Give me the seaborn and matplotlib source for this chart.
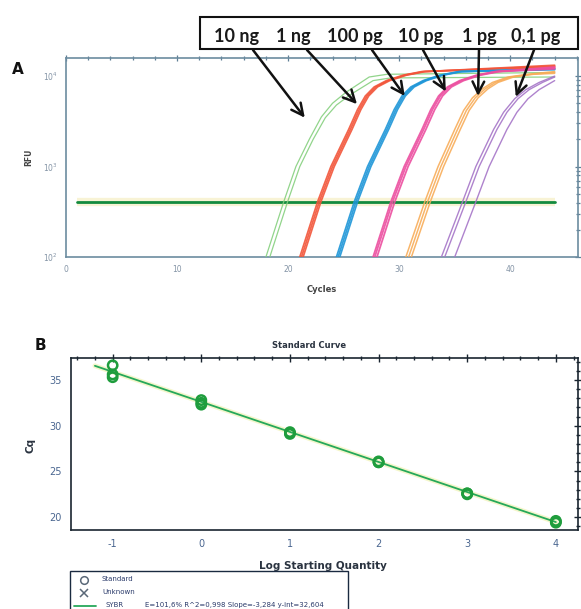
import numpy as np
import pandas as pd
import matplotlib
matplotlib.use("Agg")
import matplotlib.pyplot as plt
import seaborn as sns
from matplotlib.patches import Rectangle
from matplotlib.lines import Line2D
from matplotlib.ticker import MultipleLocator, LogLocator, NullFormatter

sns.set_theme(style="white")
plt.rcParams['font.family'] = ['DejaVu Sans']
plt.rcParams['axes.unicode_minus'] = False

W, H = 581, 609

# ---------------- Panel A data (amplification curves) ----
dilutions = ["10 ng", "1 ng", "100 pg", "10 pg", "1 pg", "0,1 pg"]
group_colors = ["#86d07f", "#f2553a", "#1e96d8", "#ec4fa0", "#f8ad5a", "#a676c8"]
group_widths = [0.9, 1.25, 1.25, 1.3, 1.1, 1.0]

ng10_cycles = [
    [17.0, 18.0, 19.6, 20.7, 21.9, 23.0, 24.0, 25.2, 27.3, 28.9, 44.0],
    [17.35, 18.35, 19.95, 21.05, 22.25, 23.35, 24.35, 25.55, 27.65, 29.25, 44.0],
]
ng10_rfu = [
    [40, 100, 407, 1000, 1995, 3548, 5012, 6607, 9772, 10471, 10965],
    [40, 100, 407, 1000, 1995, 3467, 4786, 6166, 8913, 9550, 9772],
]
ng1_cycles = [
    [20.05, 21.05, 22.65, 23.85, 25.45, 26.25, 26.95, 27.75, 28.85, 30.35, 32.05, 44.0],
    [20.2, 21.2, 22.8, 24.0, 25.6, 26.4, 27.1, 27.9, 29.0, 30.5, 32.2, 44.0],
    [20.35, 21.35, 22.95, 24.15, 25.75, 26.55, 27.25, 28.05, 29.15, 30.65, 32.35, 44.0],
]
ng1_rfu = [
    [40, 100, 407, 1000, 2570, 4266, 6026, 7586, 8913, 10233, 11220, 12589],
    [40, 100, 407, 1000, 2570, 4266, 6026, 7586, 8913, 10233, 11220, 12882],
    [40, 100, 407, 1000, 2570, 4266, 6026, 7586, 8913, 10233, 11220, 13183],
]
pg100_cycles = [
    [23.35, 24.35, 25.95, 27.15, 28.75, 29.55, 30.25, 31.05, 32.15, 33.65, 35.35, 44.0],
    [23.5, 24.5, 26.1, 27.3, 28.9, 29.7, 30.4, 31.2, 32.3, 33.8, 35.5, 44.0],
    [23.65, 24.65, 26.25, 27.45, 29.05, 29.85, 30.55, 31.35, 32.45, 33.95, 35.65, 44.0],
]
pg100_rfu = [
    [40, 100, 407, 1000, 2570, 4266, 6026, 7586, 8913, 10233, 11220, 11749],
    [40, 100, 407, 1000, 2570, 4266, 6026, 7586, 8913, 10233, 11220, 12023],
    [40, 100, 407, 1000, 2570, 4266, 6026, 7586, 8913, 10233, 11220, 12023],
]
pg10_cycles = [
    [26.65, 27.65, 29.25, 30.45, 32.05, 32.85, 33.55, 34.35, 35.45, 36.95, 38.65, 44.0],
    [26.8, 27.8, 29.4, 30.6, 32.2, 33.0, 33.7, 34.5, 35.6, 37.1, 38.8, 44.0],
    [27.0, 28.0, 29.6, 30.8, 32.4, 33.2, 33.9, 34.7, 35.8, 37.3, 39.0, 44.0],
]
pg10_rfu = [
    [40, 100, 407, 1000, 2570, 4266, 6026, 7586, 8913, 10233, 11220, 12303],
    [40, 100, 407, 1000, 2570, 4266, 6026, 7586, 8913, 10233, 11220, 12589],
    [40, 100, 407, 1000, 2570, 4266, 6026, 7586, 8913, 10233, 11220, 12023],
]
pg1_cycles = [
    [29.6, 30.6, 32.3, 33.5, 35.0, 35.8, 36.6, 37.5, 38.4, 39.8, 41.6, 44.0],
    [29.85, 30.85, 32.55, 33.75, 35.25, 36.05, 36.85, 37.75, 38.65, 40.05, 41.85, 44.0],
    [30.1, 31.1, 32.8, 34.0, 35.5, 36.3, 37.1, 38.0, 38.9, 40.3, 42.1, 44.0],
]
pg1_rfu = [
    [40, 100, 407, 1000, 2570, 4169, 5754, 7244, 8511, 9772, 10471, 11220],
    [40, 100, 407, 1000, 2570, 4169, 5754, 7244, 8511, 9772, 10471, 10965],
    [40, 100, 407, 1000, 2570, 4169, 5754, 7244, 8511, 9772, 10471, 10715],
]
pg01_cycles = [
    [32.8, 33.8, 35.7, 36.9, 38.5, 39.4, 40.4, 41.4, 42.6, 44.0],
    [33.1, 34.1, 36.0, 37.2, 38.8, 39.7, 40.7, 41.7, 42.9, 44.0],
    [34.0, 35.0, 36.9, 38.1, 39.7, 40.6, 41.6, 42.6, 44.0],
]
pg01_rfu = [
    [40, 100, 407, 1000, 2570, 3981, 5623, 7079, 8511, 10000],
    [40, 100, 407, 1000, 2570, 3981, 5623, 7079, 8511, 9772],
    [40, 100, 407, 1000, 2570, 3981, 5623, 7079, 8913],
]
threshold_cycles = [1, 44]
threshold_rfu = [410, 410]

# arrow tips (cycle, RFU) pointing at each dilution
arrow_tip_cycle = [21.5, 26.2, 30.5, 34.2, 37.1, 40.5]
arrow_tip_rfu = [3467, 4898, 6026, 6761, 6026, 5888]

# ---------------- Panel B data (standard curve) -----------------------------
log_qty = [-1, -1, -1, 0, 0, 0, 1, 1, 1, 2, 2, 2, 3, 3, 3, 4, 4, 4]
cq = [36.6, 35.6, 35.3, 32.8, 32.3, 32.5, 29.3, 29.1, 29.2,
      26.1, 26.0, 26.0, 22.6, 22.5, 22.6, 19.6, 19.4, 19.5]
fit_slope = -3.284
fit_intercept = 32.604
fit_x = np.array([-1.2, 4.0])
legend_stats = "E=101,6% R^2=0,998 Slope=-3,284 y-int=32,604"

# ---------------------------------------------------------------------------
fig = plt.figure(figsize=(W / 100, H / 100), dpi=100)
fig.patch.set_facecolor("white")


def fx(x):
    return x / W


def fy(y):
    return 1 - y / H


axA = fig.add_axes([fx(66), fy(257), fx(578) - fx(66), fy(58) - fy(257)])
axB = fig.add_axes([fx(71), fy(530), fx(578) - fx(71), fy(358) - fy(530)])

# ---- Panel A ----
axA.set_yscale("log")
# threshold with faint yellow halo
axA.plot(threshold_cycles, threshold_rfu, color="#f6efc4", lw=6, alpha=0.7,
         solid_capstyle="butt", zorder=2)
sns.lineplot(x=threshold_cycles, y=threshold_rfu, color="#138a3e", lw=2.0,
             ax=axA, zorder=3)

groups_c = [ng10_cycles, ng1_cycles, pg100_cycles, pg10_cycles, pg1_cycles, pg01_cycles]
groups_r = [ng10_rfu, ng1_rfu, pg100_rfu, pg10_rfu, pg1_rfu, pg01_rfu]
for name, cs, rs, col, lw in zip(dilutions, groups_c, groups_r, group_colors, group_widths):
    rows = []
    for i, (c, r) in enumerate(zip(cs, rs)):
        for cc, rr in zip(c, r):
            rows.append({"cycle": cc, "rfu": rr, "rep": i})
    df = pd.DataFrame(rows)
    sns.lineplot(data=df, x="cycle", y="rfu", units="rep", estimator=None,
                 color=col, lw=lw, ax=axA, sort=False, legend=False, zorder=4,
                 alpha=0.9)

axA.set_xlim(0, 46.1)
axA.set_ylim(100, 10 ** 4.2)
axA.xaxis.set_major_locator(MultipleLocator(10))
axA.xaxis.set_minor_locator(MultipleLocator(2))
axA.yaxis.set_major_locator(LogLocator(base=10))
axA.yaxis.set_minor_locator(LogLocator(base=10, subs=np.arange(2, 10)))
axA.yaxis.set_minor_formatter(NullFormatter())
axA.tick_params(axis="both", which="both", direction="inout", top=True, right=True,
                colors="#5f7f95", labelcolor="#8494a6", labelsize=5.5, width=0.9)
axA.tick_params(which="major", length=5)
axA.tick_params(which="minor", length=3)
for s in axA.spines.values():
    s.set_color("#6c8ca0")
    s.set_linewidth(1.2)
axA.set_xlabel("Cycles", fontsize=6, fontweight="bold", color="#444444")
axA.set_ylabel("RFU", fontsize=5.5, fontweight="bold", color="#444444")
axA.xaxis.set_label_coords(0.50, -0.14)
axA.yaxis.set_label_coords(-0.064, 0.5)

# annotation box
fig.patches.append(Rectangle((fx(200), fy(49)), fx(578) - fx(200), fy(17) - fy(49),
                             transform=fig.transFigure, facecolor="white",
                             edgecolor="#111111", lw=1.5, zorder=5))
label_x = [236, 293, 355, 421, 479, 536]
arrow_start_x = [253, 307, 372, 423, 479, 534]
for lab, lx in zip(dilutions, label_x):
    fig.text(fx(lx), fy(42), lab, ha="center", va="baseline", fontsize=13,
             fontweight="bold", family=["Lato", "DejaVu Sans"], color="#1a1a1a",
             zorder=6)
for sx, tc, tr in zip(arrow_start_x, arrow_tip_cycle, arrow_tip_rfu):
    axA.annotate("", xy=(tc, tr), xycoords="data",
                 xytext=(fx(sx), fy(50)), textcoords="figure fraction",
                 arrowprops=dict(arrowstyle="->,head_length=0.7,head_width=0.35",
                                 color="#111111", lw=1.8, shrinkA=0, shrinkB=0),
                 annotation_clip=False, zorder=7)

fig.text(fx(18), fy(70), "A", fontsize=11, fontweight="bold", ha="center",
         va="center", color="#111111")

# ---- Panel B ----
axB.plot(fit_x, fit_intercept + fit_slope * fit_x, color="#eef0a8", lw=3.5,
         alpha=0.6, zorder=2)
sns.lineplot(x=fit_x, y=fit_intercept + fit_slope * fit_x, color="#26a85a",
             lw=1.3, ax=axB, zorder=3)
sns.scatterplot(x=log_qty, y=cq, marker="o", s=45, ax=axB, zorder=4, legend=False)
pts = axB.collections[-1]
pts.set_facecolor("none")
pts.set_edgecolor("#1f9d3d")
pts.set_linewidth(1.8)

axB.set_xlim(-1.47, 4.25)
axB.set_ylim(18.6, 37.4)
axB.xaxis.set_major_locator(MultipleLocator(1))
axB.xaxis.set_minor_locator(MultipleLocator(0.2))
axB.yaxis.set_major_locator(MultipleLocator(5))
axB.yaxis.set_minor_locator(MultipleLocator(1))
axB.tick_params(axis="both", which="both", direction="inout", top=True, right=True,
                colors="#1a2530", labelcolor="#4a6690", labelsize=7, width=1.0)
axB.tick_params(which="major", length=6)
axB.tick_params(which="minor", length=3.5)
for s in axB.spines.values():
    s.set_color("#1a2530")
    s.set_linewidth(1.2)
axB.set_xlabel("Log Starting Quantity", fontsize=7.5, fontweight="bold", color="#2a3340")
axB.set_ylabel("Cq", fontsize=7.5, fontweight="bold", color="#2a3340")
axB.xaxis.set_label_coords(0.497, -0.18)
axB.yaxis.set_label_coords(-0.071, 0.49)
axB.set_title("Standard Curve", fontsize=6, fontweight="bold", color="#2a3340",
              x=0.47, pad=7)

fig.text(fx(40), fy(346), "B", fontsize=11, fontweight="bold", ha="center",
         va="center", color="#111111")

# ---- custom legend under B ----
fig.patches.append(Rectangle((fx(70), fy(615)), fx(348) - fx(70), fy(571) - fy(615),
                             transform=fig.transFigure, facecolor="white",
                             edgecolor="#1a2a40", lw=1.0, zorder=5))
fig.add_artist(Line2D([fx(84)], [fy(580)], marker="o", markersize=5.5,
                      markerfacecolor="none", markeredgecolor="#5a6878",
                      markeredgewidth=1.1, transform=fig.transFigure, zorder=6))
fig.add_artist(Line2D([fx(84)], [fy(593)], marker="x", markersize=6,
                      markeredgecolor="#5a6878", markeredgewidth=1.1,
                      transform=fig.transFigure, zorder=6))
fig.add_artist(Line2D([fx(74), fx(96)], [fy(606), fy(606)], color="#26a85a",
                      lw=1.3, transform=fig.transFigure, zorder=6))
leg_kw = dict(fontsize=5, color="#2a3a6a", va="center", ha="left", zorder=7)
fig.text(fx(102), fy(579), "Standard", **leg_kw)
fig.text(fx(102), fy(592), "Unknown", **leg_kw)
fig.text(fx(106), fy(605), "SYBR", **leg_kw)
fig.text(fx(145), fy(605), legend_stats, **leg_kw)

fig.savefig("out.png", dpi=100, facecolor="white")
